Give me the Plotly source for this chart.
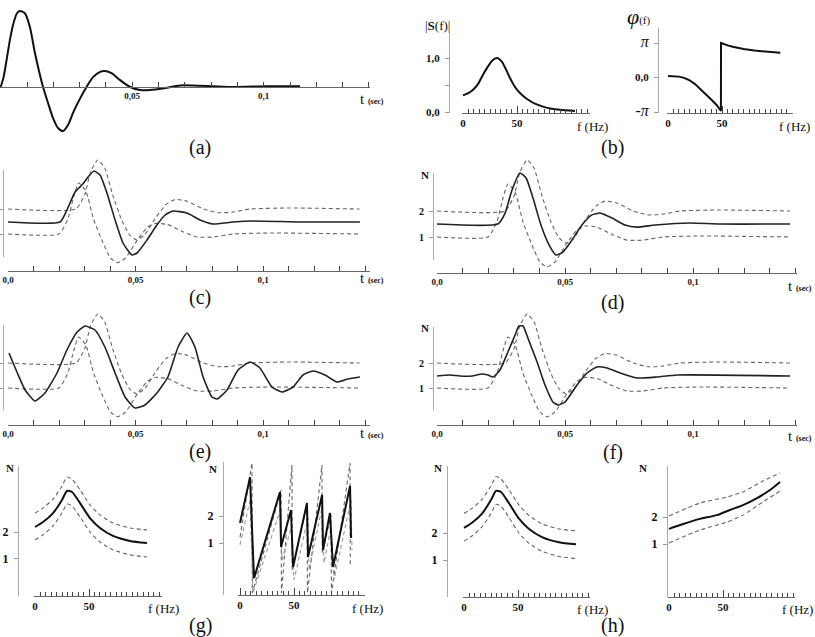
import plotly.graph_objects as go

W, H = 815, 637

# ---------------- data ----------------
# (a) source signal s(t), t in seconds
a_t = [0, 0.0011, 0.0024, 0.0035, 0.0047, 0.0062, 0.0073, 0.0092, 0.0111, 0.0130, 0.0149, 0.0161,
       0.0180, 0.0199, 0.0218, 0.0237, 0.0256, 0.0275, 0.0302, 0.0328, 0.0351, 0.0378, 0.0397,
       0.0423, 0.0454, 0.0492, 0.0530, 0.0568, 0.0617, 0.0682, 0.0731, 0.0807, 0.0883, 0.1013, 0.1138]
a_s = [0.0, 0.13, 0.39, 0.62, 0.82, 0.97, 1.0, 0.97, 0.79, 0.45, 0.16, 0.0,
       -0.21, -0.41, -0.54, -0.58, -0.50, -0.34, -0.15, 0.01, 0.13, 0.20, 0.21,
       0.18, 0.09, 0.0, -0.04, -0.04, -0.02, 0.02, 0.02, 0.01, 0.0, 0.01, 0.01]

# (b) amplitude and phase spectrum
s_f = [0, 5, 9.3, 14, 18.5, 23, 26.9, 31.5, 36.1, 40, 43.5, 47, 50.9, 55, 59.3, 66, 74.1, 82, 89.8, 103.7]
s_mag = [0.31, 0.35, 0.41, 0.52, 0.69, 0.84, 0.95, 1.0, 0.93, 0.78, 0.63, 0.5, 0.39, 0.31, 0.24, 0.16, 0.1, 0.06, 0.04, 0.02]
phi_f = [0, 5, 10, 15, 20, 25, 30, 35, 40, 45, 49, 49.1, 52, 56, 60, 65, 70, 80, 90, 104]
phi_v = [0.14, 0.13, 0.08, -0.03, -0.25, -0.6, -1.05, -1.55, -2.0, -2.5, -3.05,
         3.14, 3.02, 2.9, 2.8, 2.68, 2.6, 2.45, 2.35, 2.25]

# (c)-(f) fuzzy bounds (shared)
lb_t = [0, 0.0199, 0.0234, 0.0258, 0.0277, 0.0305, 0.0336, 0.0371, 0.0402, 0.0430, 0.0461, 0.0508,
        0.0547, 0.0578, 0.0625, 0.0688, 0.0742, 0.0805, 0.0883, 0.1027, 0.1379]
lb_n = [1.0, 1.0, 1.58, 2.5, 3.04, 2.73, 1.58, 0.69, 0.04, -0.15, 0.04, 0.77,
        1.27, 1.42, 1.38, 1.08, 0.88, 0.88, 1.0, 1.04, 1.0]
ub_t = [0, 0.0266, 0.0301, 0.0324, 0.0352, 0.0379, 0.0410, 0.0445, 0.0477, 0.0504, 0.0535, 0.0582,
        0.0621, 0.0656, 0.0703, 0.0766, 0.0824, 0.0883, 0.0949, 0.1105, 0.1379]
ub_n = [2.0, 2.0, 2.58, 3.5, 3.96, 3.65, 2.58, 1.58, 0.96, 0.77, 0.96, 1.69,
        2.19, 2.38, 2.31, 2.0, 1.85, 1.88, 2.0, 2.04, 2.0]

# (c) solid
c_t = [0, 0.0204, 0.0231, 0.0263, 0.0290, 0.0314, 0.0337, 0.0361, 0.0388, 0.0420, 0.0451, 0.0486,
       0.0506, 0.0545, 0.0584, 0.0616, 0.0647, 0.0702, 0.0753, 0.0804, 0.0882, 0.0961, 0.1145, 0.138]
c_n = [1.48, 1.48, 1.96, 2.68, 2.96, 3.28, 3.52, 3.36, 2.64, 1.56, 0.64, 0.16,
       0.24, 0.76, 1.36, 1.76, 1.92, 1.84, 1.56, 1.4, 1.48, 1.52, 1.48, 1.48]
# (d) solid
d_t = [0, 0.0238, 0.0266, 0.0293, 0.0324, 0.0348, 0.0375, 0.0406, 0.0438, 0.0465, 0.0492, 0.0527,
       0.0566, 0.0605, 0.0637, 0.0684, 0.0734, 0.0781, 0.0852, 0.0988, 0.1105, 0.1379]
d_n = [1.5, 1.5, 1.92, 2.81, 3.46, 3.27, 2.5, 1.46, 0.69, 0.31, 0.42, 0.88,
       1.46, 1.85, 1.92, 1.73, 1.46, 1.38, 1.46, 1.54, 1.5, 1.5]
# (e) solid
e_t = [0.0004, 0.0035, 0.0067, 0.0106, 0.0145, 0.0192, 0.0231, 0.0271, 0.0302, 0.0341, 0.0380, 0.0420,
       0.0459, 0.0498, 0.0537, 0.0584, 0.0627, 0.0667, 0.0702, 0.0733, 0.0765, 0.0800, 0.0820, 0.0859,
       0.0902, 0.0949, 0.0988, 0.1035, 0.1075, 0.1118, 0.1157, 0.1196, 0.1243, 0.1290, 0.1333, 0.1380]
e_n = [2.4, 1.64, 0.92, 0.48, 0.8, 1.6, 2.52, 3.24, 3.48, 3.32, 2.64, 1.6,
       0.64, 0.2, 0.32, 0.8, 1.44, 2.64, 3.2, 2.64, 1.44, 0.64, 0.56, 0.92,
       1.72, 2.04, 1.8, 1.04, 0.84, 1.04, 1.52, 1.68, 1.52, 1.24, 1.36, 1.44]
# (f) solid
f_t = [0, 0.0051, 0.009, 0.0137, 0.0176, 0.0199, 0.0219, 0.0246, 0.0277, 0.0305, 0.0320, 0.0336,
       0.0355, 0.0391, 0.0422, 0.0453, 0.0473, 0.0500, 0.0547, 0.0586, 0.0625, 0.0664, 0.0715,
       0.0781, 0.0859, 0.0938, 0.1379]
f_n = [1.48, 1.52, 1.48, 1.48, 1.56, 1.52, 1.44, 1.72, 2.44, 3.12, 3.48, 3.48,
       3.0, 2.04, 1.12, 0.44, 0.32, 0.44, 1.12, 1.6, 1.84, 1.8, 1.6,
       1.4, 1.44, 1.52, 1.48]

# (g)/(h) left: amplitude with bounds
gl_f = [0, 7.4, 16.7, 25, 29.6, 34.3, 41.7, 50.9, 60.2, 72.2, 88, 103.7]
gl_n = [2.19, 2.38, 2.72, 3.22, 3.56, 3.52, 3.1, 2.53, 2.15, 1.85, 1.66, 1.58]
gl_up = [2.72, 2.91, 3.25, 3.75, 4.09, 4.0, 3.6, 3.03, 2.65, 2.34, 2.15, 2.08]
gl_lo = [1.7, 1.89, 2.23, 2.72, 3.06, 2.99, 2.57, 2.0, 1.62, 1.32, 1.13, 1.05]

# (g) right: wrapped phase with bounds
gr_f = [0, 9.3, 11.1, 13, 37, 38, 47.2, 49.1, 62, 63, 76, 76.9, 83.3, 86.1, 101.9, 102.8]
gr_n = [1.74, 3.44, 1.56, -0.3, 2.89, 0.85, 2.22, 0.11, 2.48, 0.48, 2.78, 0.74, 2.11, 0.11, 3.11, 1.19]
gr_d1_f = [0, 11.1, 11.4, 38, 38.4, 48.1, 48.4, 62, 62.5, 75.9, 76.2, 84.3, 84.7, 101.9, 102.1]
gr_d1_n = [1.22, 3.96, -0.85, 2.96, -0.85, 3.89, 0.0, 2.41, -0.85, 3.89, 0.63, 2.04, -0.85, 3.96, 0.11]
gr_d2_f = [0, 9.3, 12, 38, 38.9, 48.1, 50, 63, 63.9, 75.9, 77.8, 84.3, 87, 102.8, 103.7]
gr_d2_n = [0.93, 2.59, -0.85, 2.3, 0.37, 1.67, -0.37, 1.93, 0.0, 2.3, 0.26, 1.59, -0.37, 2.59, 0.74]

# (h) right: unwrapped phase with bounds
hr_f = [0, 13, 28.7, 44.4, 56.5, 68.5, 81.5, 93.5, 102.8]
hr_n = [1.56, 1.74, 1.93, 2.07, 2.26, 2.44, 2.7, 3.0, 3.3]
hr_b_f = [0, 28.7, 53.7, 68.5, 87, 102.8]
hr_up = [2.04, 2.52, 2.74, 2.93, 3.33, 3.63]
hr_lo = [1.04, 1.52, 1.81, 2.07, 2.56, 2.96]

# time axes are plotted in milliseconds, labelled in seconds
t_ticks_ms = [0, 10, 20, 30, 40, 50, 60, 70, 80, 90, 100, 110, 120, 130, 140]
t_text = ["0,0", "", "", "", "", "0,05", "", "", "", "", "0,1", "", "", "", ""]
f_major = [0, 25, 50, 75, 100]
f_major_text = ["0", "", "50", "", ""]
f_minor = [5 * i for i in range(24)]

# ---------------- helpers ----------------
SERIF = "Liberation Serif, Times New Roman, DejaVu Serif, serif"
AX = "#666"
INK = "#111"
lay = {}
fig = go.Figure()


def ms(seq):
    return [v * 1000.0 for v in seq]


def px2x(p):
    return p / W


def py2y(p):
    return 1 - p / H


def lin_range(pa, va, pb, vb, p0, p1):
    k = (vb - va) / (pb - pa)
    return [va + (p0 - pa) * k, va + (p1 - pa) * k]


def base_axis(**kw):
    d = dict(showgrid=False, zeroline=False, showline=True, linecolor=AX, linewidth=1,
             tickcolor="#444", tickwidth=1, fixedrange=True, automargin=False,
             tickfont=dict(family=SERIF, size=9, color=INK, weight="bold"))
    d.update(kw)
    return d


def empty_trace(k):
    fig.add_trace(go.Scatter(x=[], y=[], xaxis=f"x{k}", yaxis=f"y{k}", mode="lines",
                             showlegend=False, hoverinfo="skip"))


def t_data_xaxis(n, dom, p0, anchor):
    # invisible axis that carries the data scale (ms)
    rng = lin_range(p0[0], 0.0, p0[1], 100.0, dom[0], dom[1])
    lay[f"xaxis{n}"] = dict(domain=[px2x(dom[0]), px2x(dom[1])], range=rng, visible=False,
                            anchor=anchor, fixedrange=True, automargin=False)


def t_tick_axis(k, dom, p0, line_py):
    # visible time axis on its own thin subplot, anchored to a free y-axis
    rng = lin_range(p0[0], 0.0, p0[1], 100.0, dom[0], dom[1])
    lay[f"xaxis{k}"] = base_axis(
        domain=[px2x(dom[0]), px2x(dom[1])], range=rng, anchor=f"y{k}",
        tickmode="array", tickvals=t_ticks_ms, ticktext=t_text, ticks="inside", ticklen=5,
        tickfont=dict(family=SERIF, size=9, color=INK, weight="bold"),
        minor=dict(tickmode="array", tickvals=t_ticks_ms, ticks="inside", ticklen=5,
                   tickcolor="#444"))
    lay[f"yaxis{k}"] = dict(domain=[py2y(line_py), py2y(line_py - 8)], range=[0, 1],
                            anchor="free", position=px2x(dom[0]), showline=True,
                            linecolor="rgba(0,0,0,0)", ticks="", showticklabels=False,
                            showgrid=False, zeroline=False, fixedrange=True, automargin=False)
    empty_trace(k)


def f_xaxis(n, dom, p0):
    rng = lin_range(p0, 0.0, p0 + 108, 100.0, dom[0], dom[1])
    lay[f"xaxis{n}"] = base_axis(
        domain=[px2x(dom[0]), px2x(dom[1])], range=rng, anchor=f"y{n}",
        tickmode="array", tickvals=f_major, ticktext=f_major_text, ticks="inside", ticklen=7,
        tickfont=dict(family=SERIF, size=11, color=INK, weight="bold"),
        minor=dict(tickmode="array", tickvals=f_minor, ticks="inside", ticklen=4, tickcolor="#444"))


def hidden_y(n, dom, rng, anchor):
    lay[f"yaxis{n}"] = dict(domain=[py2y(dom[0]), py2y(dom[1])], range=rng, visible=False,
                            anchor=anchor, fixedrange=True, automargin=False)


def shown_y(n, dom, rng, tickvals, ticktext, position, size=12, labels=True):
    lay[f"yaxis{n}"] = base_axis(
        domain=[py2y(dom[0]), py2y(dom[1])], range=rng, tickmode="array",
        tickvals=tickvals, ticktext=ticktext, ticks="outside", ticklen=4,
        linecolor="#aaa", tickcolor="#999", ticklabelstandoff=3,
        showticklabels=labels, anchor="free", position=position,
        tickfont=dict(family=SERIF, size=size, color=INK, weight="bold"))


def line(n, x, y, color=INK, width=1.6, dash=None, shape="spline", smoothing=0.6):
    ln = dict(color=color, width=width, dash=dash, shape=shape)
    if shape == "spline":
        ln["smoothing"] = smoothing
    fig.add_trace(go.Scatter(x=x, y=y, xaxis=f"x{n}", yaxis=f"y{n}", mode="lines",
                             line=ln, hoverinfo="skip", showlegend=False))


DASH = "4px,3px"
DCOL = "#666"

# ---- (a) ----
t_data_xaxis(1, (0, 370), (0.7, 263.7), "y1")
hidden_y(1, (140, 3), lin_range(87, 0, 11, 1, 140, 3), "x1")
line(1, ms(a_t), a_s, width=2, smoothing=0.7)
t_tick_axis(16, (0, 370), (0.7, 263.7), 87)

# ---- (b) amplitude ----
f_xaxis(2, (462, 590), 463)
shown_y(2, (113, 33), lin_range(112, 0, 58, 1, 113, 33), [0, 0.5, 1.0], ["0,0", "", "1,0"],
        px2x(449), size=11)
line(2, s_f, s_mag, width=2, smoothing=0.6)

# ---- (b) phase ----
PI = 3.14159265
f_xaxis(3, (667, 793), 668)
shown_y(3, (113, 28), lin_range(77.5, 0, 43, PI, 113, 28), [-PI, 0, PI],
        ["<span style='font-weight:normal;font-size:16px'><i>-π</i></span>", "0,0",
         "<span style='font-weight:normal;font-size:16px'><i>π</i></span>"],
        px2x(658), size=11)
line(3, phi_f, phi_v, width=2, shape="linear")

# ---- (c)-(f) ----
panels = [
    # data axis n, display y axis m, tick axis k, x dom, t pixel map, data y dom,
    # N map (py of 1, py of 2), display y dom, y-axis x px, axis line py, solid, labels
    (4, 5, 17, (8, 370), (8, 263), (271, 155), (234, 209), (257, 170), 3, 271, c_t, c_n, False),
    (6, 7, 18, (437, 797), (437, 693), (273, 155), (237, 211), (260, 173), 433, 273, d_t, d_n, True),
    (8, 9, 19, (8, 370), (8, 263), (425, 308), (388, 363), (410, 325), 3, 425, e_t, e_n, False),
    (10, 11, 20, (437, 797), (437, 693), (425, 308), (388, 363), (410, 327), 433, 425, f_t, f_n, True),
]
for n, m, k, xd, tm, yd, nm, yad, yx, lpy, st, sn, lab in panels:
    t_data_xaxis(n, xd, tm, f"y{n}")
    hidden_y(n, yd, lin_range(nm[0], 1, nm[1], 2, yd[0], yd[1]), f"x{n}")
    lay[f"xaxis{m}"] = dict(domain=[px2x(yx), px2x(xd[1])], range=[0, 1], visible=False,
                            anchor=f"y{m}", fixedrange=True, automargin=False)
    shown_y(m, yad, lin_range(nm[0], 1, nm[1], 2, yad[0], yad[1]), [1, 2], ["1", "2"],
            px2x(yx), size=10, labels=lab)
    empty_trace(m)
    line(n, ms(ub_t), ub_n, color=DCOL, width=1.1, dash=DASH, smoothing=0.5)
    line(n, ms(lb_t), lb_n, color=DCOL, width=1.1, dash=DASH, smoothing=0.5)
    line(n, ms(st), sn, color="#222", width=1.6, smoothing=0.5)
    t_tick_axis(k, xd, tm, lpy)

# ---- (g) left ----
f_xaxis(12, (34, 162), 35)
shown_y(12, (596, 466), lin_range(532, 2, 558.3, 1, 596, 466), [1, 2], ["1", "2"],
        px2x(18), size=12)
line(12, gl_f, gl_up, color=DCOL, width=1.1, dash=DASH)
line(12, gl_f, gl_lo, color=DCOL, width=1.1, dash=DASH)
line(12, gl_f, gl_n, width=2)

# ---- (g) right ----
f_xaxis(13, (238, 365), 240)
shown_y(13, (595, 462), lin_range(516, 2, 543, 1, 595, 462), [1, 2], ["1", "2"],
        px2x(223), size=12)
line(13, gr_d1_f, gr_d1_n, color=DCOL, width=1.1, dash=DASH, shape="linear")
line(13, gr_d2_f, gr_d2_n, color="#999", width=1.1, dash=DASH, shape="linear")
line(13, gr_f, gr_n, width=2, shape="linear")

# ---- (h) left ----
f_xaxis(14, (463, 590), 464)
shown_y(14, (597, 466), lin_range(533, 2, 560, 1, 597, 466), [1, 2], ["1", "2"],
        px2x(447), size=12)
line(14, gl_f, gl_up, color=DCOL, width=1.1, dash=DASH)
line(14, gl_f, gl_lo, color=DCOL, width=1.1, dash=DASH)
line(14, gl_f, gl_n, width=2)

# ---- (h) right ----
f_xaxis(15, (668, 795), 669)
shown_y(15, (597, 466), lin_range(517, 2, 544, 1, 597, 466), [1, 2], ["1", "2"],
        px2x(667), size=12)
line(15, hr_b_f, hr_up, color=DCOL, width=1.1, dash=DASH)
line(15, hr_b_f, hr_lo, color=DCOL, width=1.1, dash=DASH)
line(15, hr_f, hr_n, width=2)

# ---------------- annotations ----------------
ann = []


def text(xp, yp, s, size=12, xanchor="center", bold=False, color=INK):
    ann.append(dict(x=px2x(xp), y=py2y(yp), xref="paper", yref="paper", text=s, showarrow=False,
                    xanchor=xanchor, yanchor="middle",
                    font=dict(family=SERIF, size=size, color=color,
                              weight="bold" if bold else "normal")))


for lbl, xp, yp in [("(a)", 200, 148), ("(b)", 612, 147), ("(c)", 200, 297), ("(d)", 612, 302),
                    ("(e)", 200, 451), ("(f)", 613, 452), ("(g)", 200, 625), ("(h)", 612, 625)]:
    text(xp, yp, lbl, size=20)

TSEC = "t <span style='font-size:8px'><b>(sec)</b></span>"
for xp, yp in [(358, 99), (358, 278), (786, 286), (358, 433), (786, 436)]:
    text(xp, yp, TSEC, size=15, xanchor="left")

for xp, yp in [(592, 127), (794, 127), (163, 608), (367, 608), (592, 609), (797, 609)]:
    text(xp, yp, "f (Hz)", size=13)

for xp, yp in [(425, 175), (425, 328), (10, 468), (213, 469), (438, 468), (643, 468)]:
    text(xp, yp, "N", size=11, bold=True)

text(437, 25, "|<b>S</b>(f)|", size=13)
text(638, 17, "<i><span style='font-size:22px'>φ</span></i>(f)", size=11)

fig.update_layout(
    width=W, height=H, margin=dict(l=0, r=0, t=0, b=0, autoexpand=False),
    paper_bgcolor="white", plot_bgcolor="rgba(0,0,0,0)",
    showlegend=False, annotations=ann, **lay)

fig.write_html("out.html", config=dict(displayModeBar=False))
